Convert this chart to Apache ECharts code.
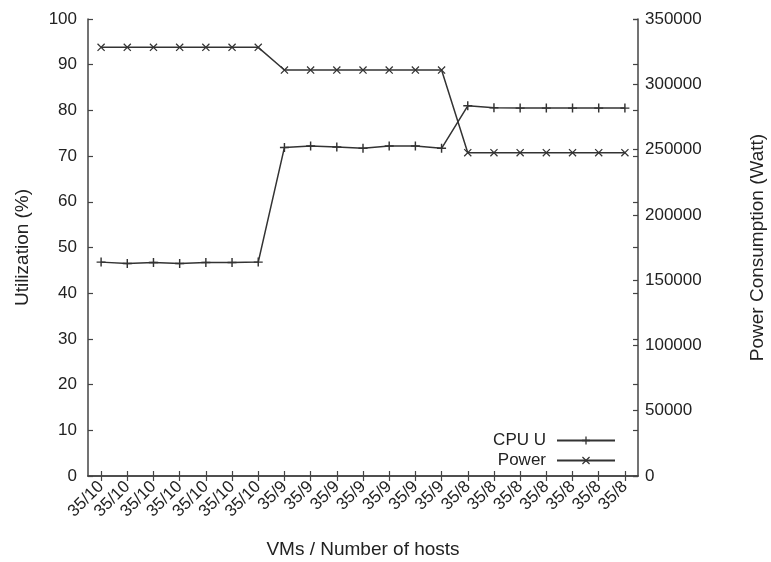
<!DOCTYPE html>
<html>
<head>
<meta charset="utf-8">
<script src="https://cdn.jsdelivr.net/npm/echarts@6/dist/echarts.min.js"></script>
<style>
  html, body { margin: 0; padding: 0; background: #fff; }
  #chart { width: 771px; height: 562px; }
</style>
</head>
<body>
<div id="chart"></div>
<script>
// VMs / number of hosts
var hosts = ['35/10', '35/10', '35/10', '35/10', '35/10', '35/10', '35/10',
             '35/9', '35/9', '35/9', '35/9', '35/9', '35/9', '35/9',
             '35/8', '35/8', '35/8', '35/8', '35/8', '35/8', '35/8'];
// CPU utilization (%)
var cpuU = [46.8, 46.5, 46.7, 46.5, 46.7, 46.7, 46.8,
            71.9, 72.2, 72.0, 71.7, 72.2, 72.2, 71.7,
            81.0, 80.6, 80.5, 80.5, 80.5, 80.5, 80.5];
// Power consumption (Watt)
var power = [328300, 328300, 328300, 328300, 328300, 328300, 328300,
             310900, 310900, 310900, 310900, 310900, 310900, 310900,
             247600, 247600, 247600, 247600, 247600, 247600, 247600];

var FONT = 'Liberation Sans';
var INK = '#333';
var plusSym = 'path://M4.2,0h1.6v10h-1.6z M0,4.2h10v1.6h-10z';
var crossSym = 'path://M0,1.1L1.1,0L10,8.9L8.9,10Z M8.9,0L10,1.1L1.1,10L0,8.9Z';

var chart = echarts.init(document.getElementById('chart'));

var axisLine = { show: true, lineStyle: { color: '#444', width: 1.5 } };
var tickIn = { show: true, inside: true, length: 5, lineStyle: { color: '#444', width: 1.2 } };
var legendText = { fontFamily: FONT, fontSize: 17, color: '#222', padding: [0, 6, 0, 0] };

var option = {
    backgroundColor: '#fff',
    animation: false,
    grid: { left: 88, right: 133, top: 19, bottom: 86, containLabel: false, outerBoundsMode: 'none' },
    legend: [
        {
            data: ['CPU U'],
            orient: 'vertical', align: 'right',
            right: 150, top: 427,
            itemWidth: 58, itemHeight: 10,
            textStyle: legendText
        },
        {
            data: ['Power'],
            orient: 'vertical', align: 'right',
            right: 150, top: 447,
            itemWidth: 58, itemHeight: 10,
            textStyle: legendText
        }
    ],
    xAxis: [
        {
            type: 'category',
            data: hosts,
            position: 'bottom',
            boundaryGap: true,
            name: 'VMs / Number of hosts',
            nameLocation: 'center',
            nameGap: 64,
            nameTextStyle: { fontFamily: FONT, fontSize: 19, color: '#222' },
            axisLine: axisLine,
            axisTick: Object.assign({ alignWithLabel: true, interval: 0 }, tickIn),
            axisLabel: { interval: 0, rotate: 45, fontFamily: FONT, fontSize: 17, color: '#222', margin: 8 },
            splitLine: { show: false }
        },
        {
            type: 'category',
            data: hosts,
            position: 'top',
            boundaryGap: true,
            axisLine: axisLine,
            axisTick: Object.assign({ alignWithLabel: true, interval: 0 }, tickIn),
            axisLabel: { show: false },
            splitLine: { show: false }
        }
    ],
    yAxis: [
        {
            type: 'value',
            min: 0, max: 100, interval: 10,
            position: 'left',
            name: 'Utilization (%)',
            nameLocation: 'center',
            nameGap: 56,
            nameRotate: 90,
            nameTextStyle: { fontFamily: FONT, fontSize: 19, color: '#222' },
            axisLine: axisLine,
            axisTick: tickIn,
            axisLabel: { fontFamily: FONT, fontSize: 17, color: '#222', margin: 11 },
            splitLine: { show: false }
        },
        {
            type: 'value',
            min: 0, max: 350000, interval: 50000,
            position: 'right',
            name: 'Power Consumption (Watt)',
            nameLocation: 'center',
            nameGap: 110,
            nameRotate: 90,
            nameTextStyle: { fontFamily: FONT, fontSize: 19, color: '#222' },
            axisLine: axisLine,
            axisTick: tickIn,
            axisLabel: {
                fontFamily: FONT, fontSize: 17, color: '#222', margin: 7,
                formatter: function (v) { return String(v); }
            },
            splitLine: { show: false }
        },
        {
            type: 'value',
            min: 0, max: 100, interval: 10,
            position: 'right',
            axisLine: { show: false },
            axisTick: tickIn,
            axisLabel: { show: false },
            splitLine: { show: false }
        }
    ],
    series: [
        {
            name: 'CPU U',
            type: 'line',
            xAxisIndex: 0,
            yAxisIndex: 0,
            data: cpuU,
            symbol: plusSym,
            symbolSize: 9,
            lineStyle: { color: INK, width: 1.5 },
            itemStyle: { color: INK },
            z: 3
        },
        {
            name: 'Power',
            type: 'line',
            xAxisIndex: 0,
            yAxisIndex: 1,
            data: power,
            symbol: crossSym,
            symbolSize: 8,
            lineStyle: { color: INK, width: 1.5 },
            itemStyle: { color: INK },
            z: 3
        }
    ]
};

chart.setOption(option);
</script>
</body>
</html>
